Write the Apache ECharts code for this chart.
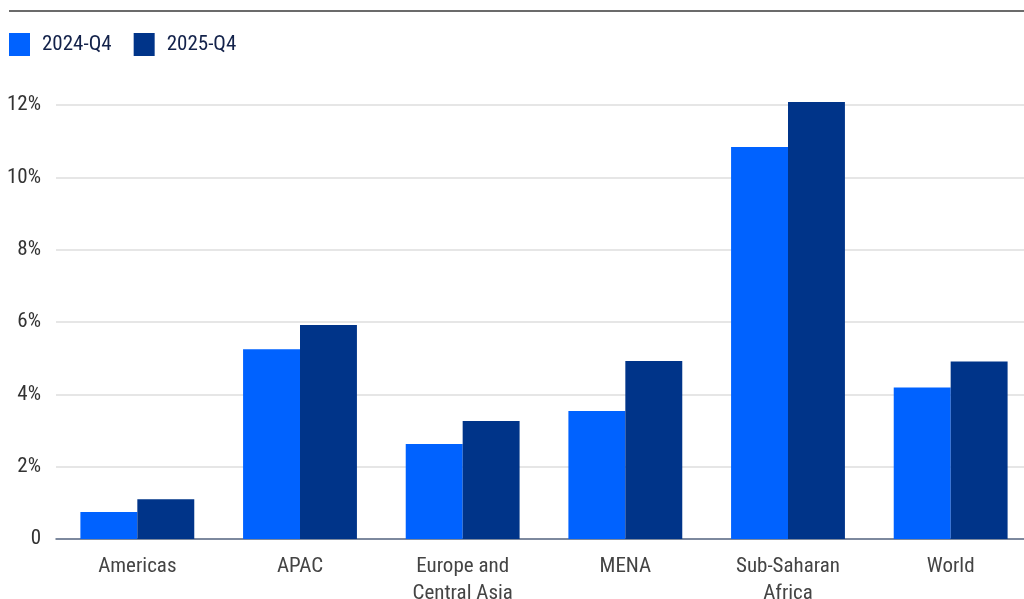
<!DOCTYPE html>
<html>
<head>
<meta charset="utf-8">
<script src="https://cdn.jsdelivr.net/npm/echarts@6/dist/echarts.min.js"></script>
<style>
  html, body { margin: 0; padding: 0; background: #fff; }
  #chart { width: 1024px; height: 599px; }
</style>
</head>
<body>
<div id="chart"></div>
<script>
// Regions compared, in percent
const regions = ['Americas', 'APAC', 'Europe and\nCentral Asia', 'MENA', 'Sub-Saharan\nAfrica', 'World'];
const seriesNames = ['2024-Q4', '2025-Q4'];
const values2024 = [0.75, 5.25, 2.63, 3.54, 10.84, 4.19];
const values2025 = [1.1, 5.92, 3.26, 4.92, 12.08, 4.91];
const yTicks = { min: 0, max: 12, interval: 2 };

const FONT = "'Roboto Condensed', 'Liberation Sans Narrow', 'DejaVu Sans Condensed', Roboto, sans-serif";

const chart = echarts.init(document.getElementById('chart'), null, { renderer: 'canvas' });

chart.setOption({
  animation: false,
  color: ['#0062ff', '#003489'],
  graphic: [{
    type: 'line',
    shape: { x1: 9, y1: 11, x2: 1024, y2: 11 },
    style: { stroke: '#3a3a3a', lineWidth: 1.5 }
  }],
  legend: {
    left: 9,
    top: 33,
    padding: 0,
    itemWidth: 21,
    itemHeight: 23,
    itemGap: 22,
    icon: 'rect',
    data: seriesNames,
    textStyle: { fontFamily: FONT, fontSize: 21, color: '#13224a', padding: [0, 0, 0, 7] }
  },
  grid: { left: 56, right: -8, top: 105, bottom: 60, containLabel: false, outerBoundsMode: 'none' },
  xAxis: {
    type: 'category',
    data: regions,
    axisTick: { show: false },
    axisLine: { show: true, lineStyle: { color: '#5b6b86', width: 1.5 } },
    axisLabel: { fontFamily: FONT, fontSize: 21, color: '#444', margin: 14, lineHeight: 27 }
  },
  yAxis: {
    type: 'value',
    min: yTicks.min,
    max: yTicks.max,
    interval: yTicks.interval,
    axisLine: { show: false },
    axisTick: { show: false },
    splitLine: { lineStyle: { color: '#dedede', width: 1.5 } },
    axisLabel: {
      fontFamily: FONT, fontSize: 21, color: '#333', margin: 15,
      formatter: v => v === 0 ? '0' : v + '%'
    }
  },
  series: [
    { name: seriesNames[0], type: 'bar', data: values2024, barGap: '0%', barCategoryGap: '30%', clip: false },
    { name: seriesNames[1], type: 'bar', data: values2025, barGap: '0%', barCategoryGap: '30%', clip: false }
  ]
});
</script>
</body>
</html>
